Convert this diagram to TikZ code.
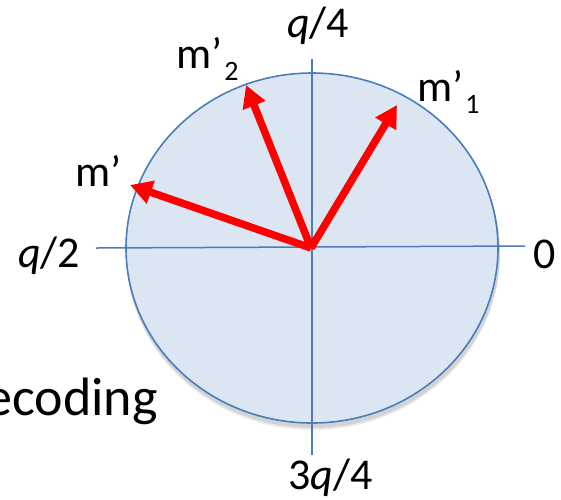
\documentclass[tikz,border=0pt]{standalone}
\usepackage{fontspec}
\setmainfont{Carlito}
\usetikzlibrary{arrows.meta}
\definecolor{axisblue}{HTML}{4A7EBB}
\definecolor{discfill}{HTML}{DCE6F2}
\newcommand{\subdigit}[1]{\raisebox{-12pt}{\fontsize{28}{28}\selectfont #1}}
\begin{document}
\begin{tikzpicture}[x=1pt,y=-1pt,
  axisline/.style={draw=axisblue, line width=1.5pt},
  vec/.style={draw=red, line width=7.5pt, -{Triangle[length=22pt,width=23pt]}},
  lbl/.style={inner sep=0pt, anchor=base west, font=\fontsize{44}{44}\selectfont},
  bigtext/.style={inner sep=0pt, anchor=base east, font=\fontsize{54}{54}\selectfont},
]
\useasboundingbox (0,0) rectangle (561,499);
% disc with faint shadow
\fill[black, opacity=0.10] (313,252) ellipse [x radius=187, y radius=176];
\fill[black, opacity=0.08] (313,254) ellipse [x radius=187, y radius=176];
\filldraw[fill=discfill, draw=axisblue, line width=1.6pt] (312,248) ellipse [x radius=186, y radius=175];
% axes
\coordinate (hl) at (96,248);
\coordinate (hr) at (525,246);
\coordinate (vt) at (312,59);
\coordinate (vb) at (312,455);
\draw[axisline] (hl) -- (hr);
\draw[axisline] (vt) -- (vb);
% vectors
\coordinate (O) at (311,248);
\coordinate (tipm) at (130,185);
\coordinate (tipmtwo) at (246,85);
\coordinate (tipmone) at (397,105);
\draw[vec] (O) -- (tipm);
\draw[vec] (O) -- (tipmtwo);
\draw[vec] (O) -- (tipmone);
% labels
\node[lbl] (lq4) at (287,37) {{\itshape q}/4};
\node[lbl] (l3q4) at (288,489) {3{\itshape q}/4};
\node[lbl] (lq2) at (18,267) {{\itshape q}/2};
\node[lbl] (lzero) at (533,268) {0};
\node[lbl] (lm) at (75,186) {m’};
\node[lbl] (lmtwo) at (176,68) {m’\hspace{2pt}\subdigit{2}};
\node[lbl] (lmone) at (417,101) {m’\hspace{2pt}\subdigit{1}};
\node[bigtext] (dec) at (158,415) {ecoding};
\end{tikzpicture}
\end{document}
